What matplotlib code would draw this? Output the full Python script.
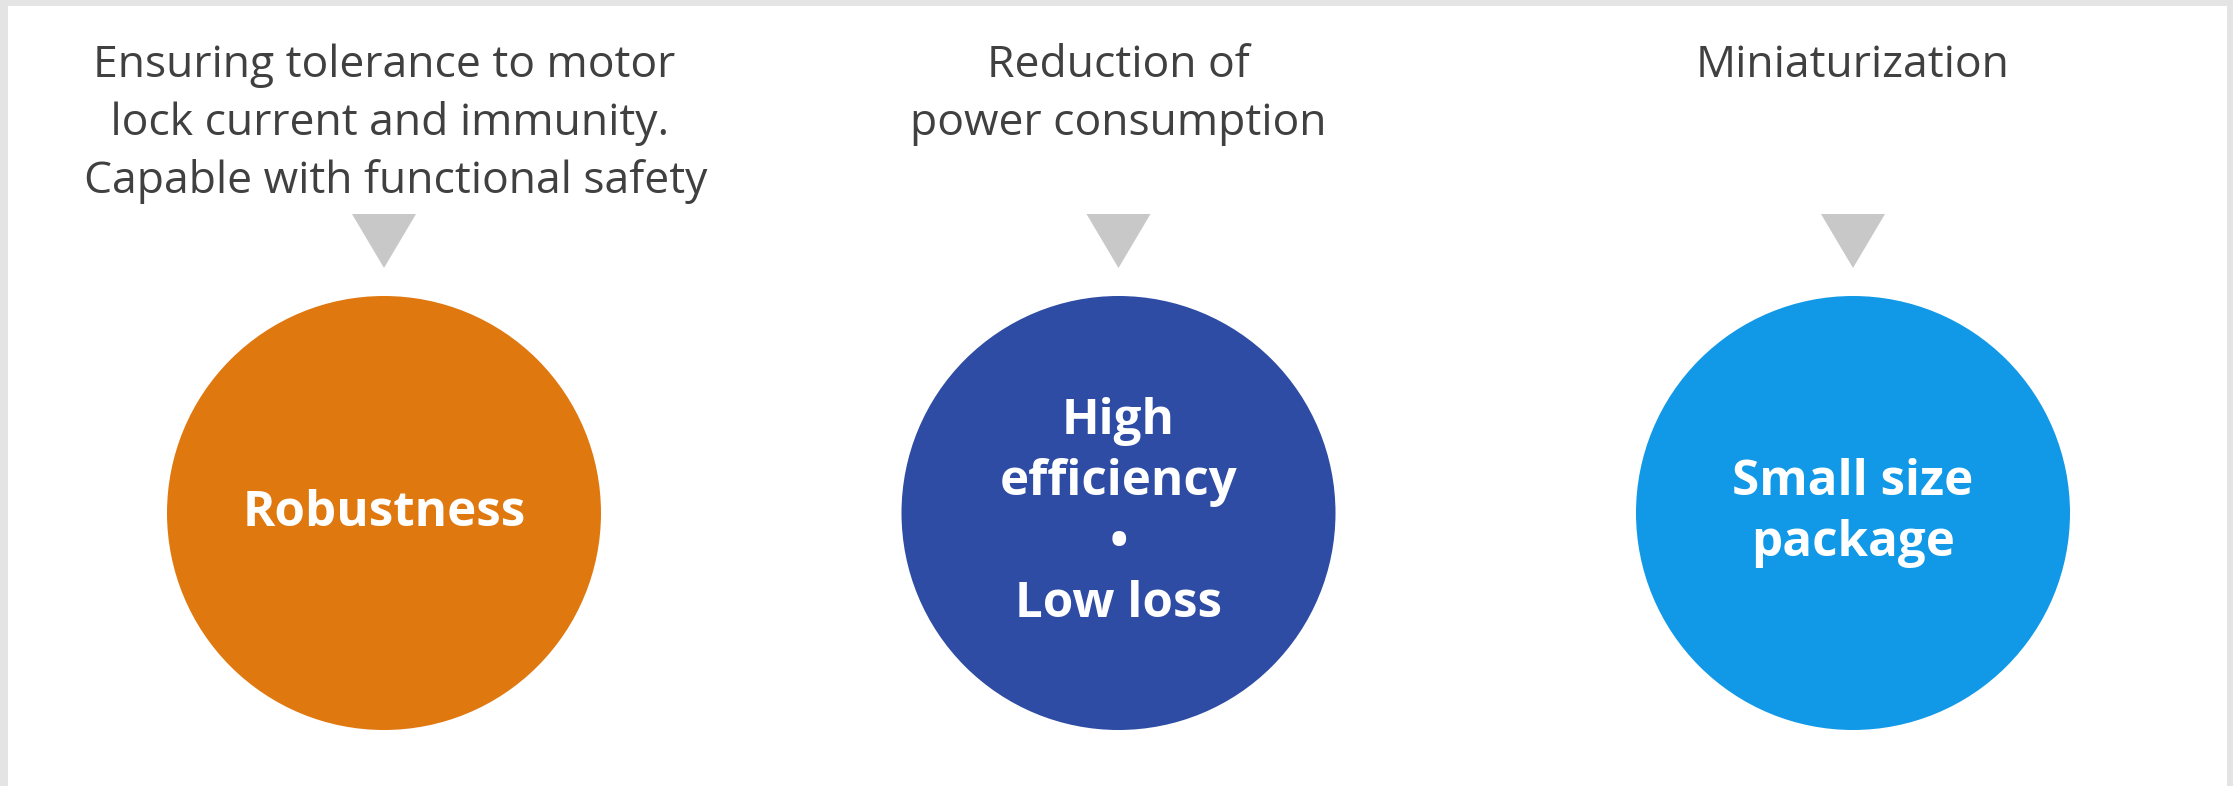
import matplotlib
matplotlib.use("Agg")
import matplotlib.pyplot as plt
from matplotlib.patches import Circle, Rectangle, Polygon

# chart content
headings = [
    ["Ensuring tolerance to motor", " lock current and immunity.", "  Capable with functional safety"],
    ["Reduction of", "power consumption"],
    ["Miniaturization"],
]
labels = ["Robustness", "High\nefficiency\n\u2022\nLow loss", "Small size\npackage"]
colors = ["#E07810", "#2E4CA4", "#1199E8"]

W, H = 2233, 786
fig = plt.figure(figsize=(W / 100, H / 100), dpi=100, facecolor="#e4e4e4")
ax = fig.add_axes([0, 0, 1, 1])
ax.set_xlim(0, W)
ax.set_ylim(H, 0)
ax.axis("off")

# white card inside the grey frame
ax.add_patch(Rectangle((8, 6), W - 14, H - 6, facecolor="white", edgecolor="none"))

x0, step = 384, 734.5
cy, r = 513, 217
for i, (head, lab, col) in enumerate(zip(headings, labels, colors)):
    cx = x0 + i * step
    for k, line in enumerate(head):
        ax.text(cx, 77 + k * 58, line, ha="center", va="baseline",
                fontsize=32, color="#404040", family="Open Sans")
    # grey pointer
    ax.add_patch(Polygon([(cx - 32, 214), (cx + 32, 214), (cx, 268)],
                         closed=True, facecolor="#c8c8c8", edgecolor="none"))
    ax.add_patch(Circle((cx, cy), r, facecolor=col, edgecolor="none"))
    ax.text(cx, cy, lab, ha="center", va="center", fontsize=35.5,
            fontweight="bold", color="white", family="Open Sans",
            linespacing=1.32)

fig.savefig("out.png", dpi=100, facecolor=fig.get_facecolor())
